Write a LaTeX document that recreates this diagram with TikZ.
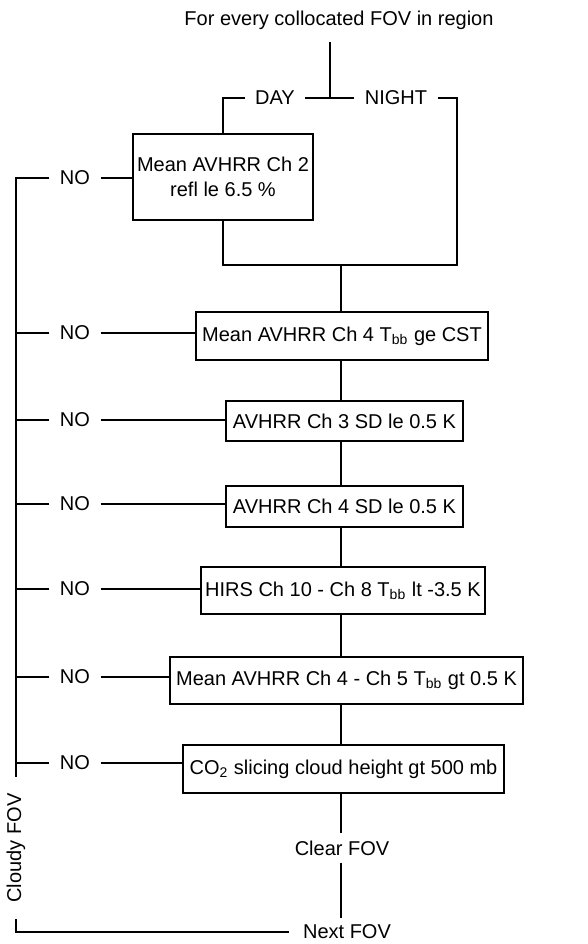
\documentclass[tikz,border=0pt]{standalone}
\usepackage{fontspec}
\setmainfont{Liberation Sans}
\usetikzlibrary{calc}

\begin{document}
\begin{tikzpicture}[x=0.5pt, y=-0.5pt, line width=0.6pt,
    font=\fontsize{10}{12.5}\selectfont,
    test/.style 2 args={draw, minimum width=#1, minimum height=#2, inner sep=0pt, align=center},
    lbl/.style={inner xsep=5pt, inner ysep=1pt}]
    \useasboundingbox (0,0) rectangle (588,944);
    % Tiêu đề và nhánh ngày/đêm
    \node (title) at (339,20) {For every collocated FOV in region};
    \coordinate (top) at (330,42);
    \coordinate (split) at (330,98);
    \node[lbl] (day) at (275,98) {DAY};
    \node[lbl] (night) at (396,98) {NIGHT};
    \node[test={90pt}{43pt}] (refl) at (223,177) {Mean AVHRR Ch 2\\refl le 6.5 \%};
    \coordinate (nightdrop) at (457,265);
    \coordinate (merge) at (341,265);
    \draw (top) -- (split);
    \draw (day.east) -- (night.west);
    \draw (day.west) -| (refl.north);
    \draw (night.east) -| (nightdrop) -| (refl.south);
    % Các phép thử
    \node[test={146pt}{24pt}] (cst) at (342,336) {Mean AVHRR Ch 4 T\textsubscript{bb} ge CST};
    \node[test={118.5pt}{20pt}] (sdthree) at (344.5,421) {AVHRR Ch 3 SD le 0.5 K};
    \node[test={118.5pt}{20.5pt}] (sdfour) at (344.5,506.5) {AVHRR Ch 4 SD le 0.5 K};
    \node[test={142pt}{23.5pt}] (hirs) at (343,590.5) {HIRS Ch 10 - Ch 8 T\textsubscript{bb} lt -3.5 K};
    \node[test={176.5pt}{23.5pt}] (split45) at (346.5,680.5) {Mean AVHRR Ch 4 - Ch 5 T\textsubscript{bb} gt 0.5 K};
    \node[test={160.5pt}{24pt}] (cotwo) at (343.5,769) {CO\textsubscript{2} slicing cloud height gt 500 mb};
    \draw (merge) -- (cst.north -| merge);
    \draw (cst.south -| merge) -- (sdthree.north -| merge);
    \draw (sdthree.south -| merge) -- (sdfour.north -| merge);
    \draw (sdfour.south -| merge) -- (hirs.north -| merge);
    \draw (hirs.south -| merge) -- (split45.north -| merge);
    \draw (split45.south -| merge) -- (cotwo.north -| merge);
    % Kết quả
    \node (clear) at (342,848) {Clear FOV};
    \node[inner xsep=7pt] (next) at (347,932) {Next FOV};
    \node[inner xsep=8pt, inner ysep=1pt, rotate=90] (cloudy) at (16,848) {Cloudy FOV};
    \draw (cotwo.south -| merge) -- (clear.north -| merge);
    \draw (clear.south -| merge) -- (next.north -| merge);
    % Nhánh NO
    \node[lbl] (noa) at (75,178) {NO};
    \node[lbl] (nob) at (75,333) {NO};
    \node[lbl] (noc) at (75,420) {NO};
    \node[lbl] (nod) at (75,504) {NO};
    \node[lbl] (noe) at (75,589) {NO};
    \node[lbl] (nof) at (75,677) {NO};
    \node[lbl] (nog) at (75,763) {NO};
    \draw (noa.east) -- (noa.east -| refl.west);
    \draw (nob.east) -- (nob.east -| cst.west);
    \draw (noc.east) -- (noc.east -| sdthree.west);
    \draw (nod.east) -- (nod.east -| sdfour.west);
    \draw (noe.east) -- (noe.east -| hirs.west);
    \draw (nof.east) -- (nof.east -| split45.west);
    \draw (nog.east) -- (nog.east -| cotwo.west);
    \draw (noa.west) -| (cloudy.east);
    \draw (nob.west) -- (nob.west -| cloudy);
    \draw (noc.west) -- (noc.west -| cloudy);
    \draw (nod.west) -- (nod.west -| cloudy);
    \draw (noe.west) -- (noe.west -| cloudy);
    \draw (nof.west) -- (nof.west -| cloudy);
    \draw (nog.west) -- (nog.west -| cloudy);
    \draw (cloudy.west) |- (next.west);
\end{tikzpicture}
\end{document}
